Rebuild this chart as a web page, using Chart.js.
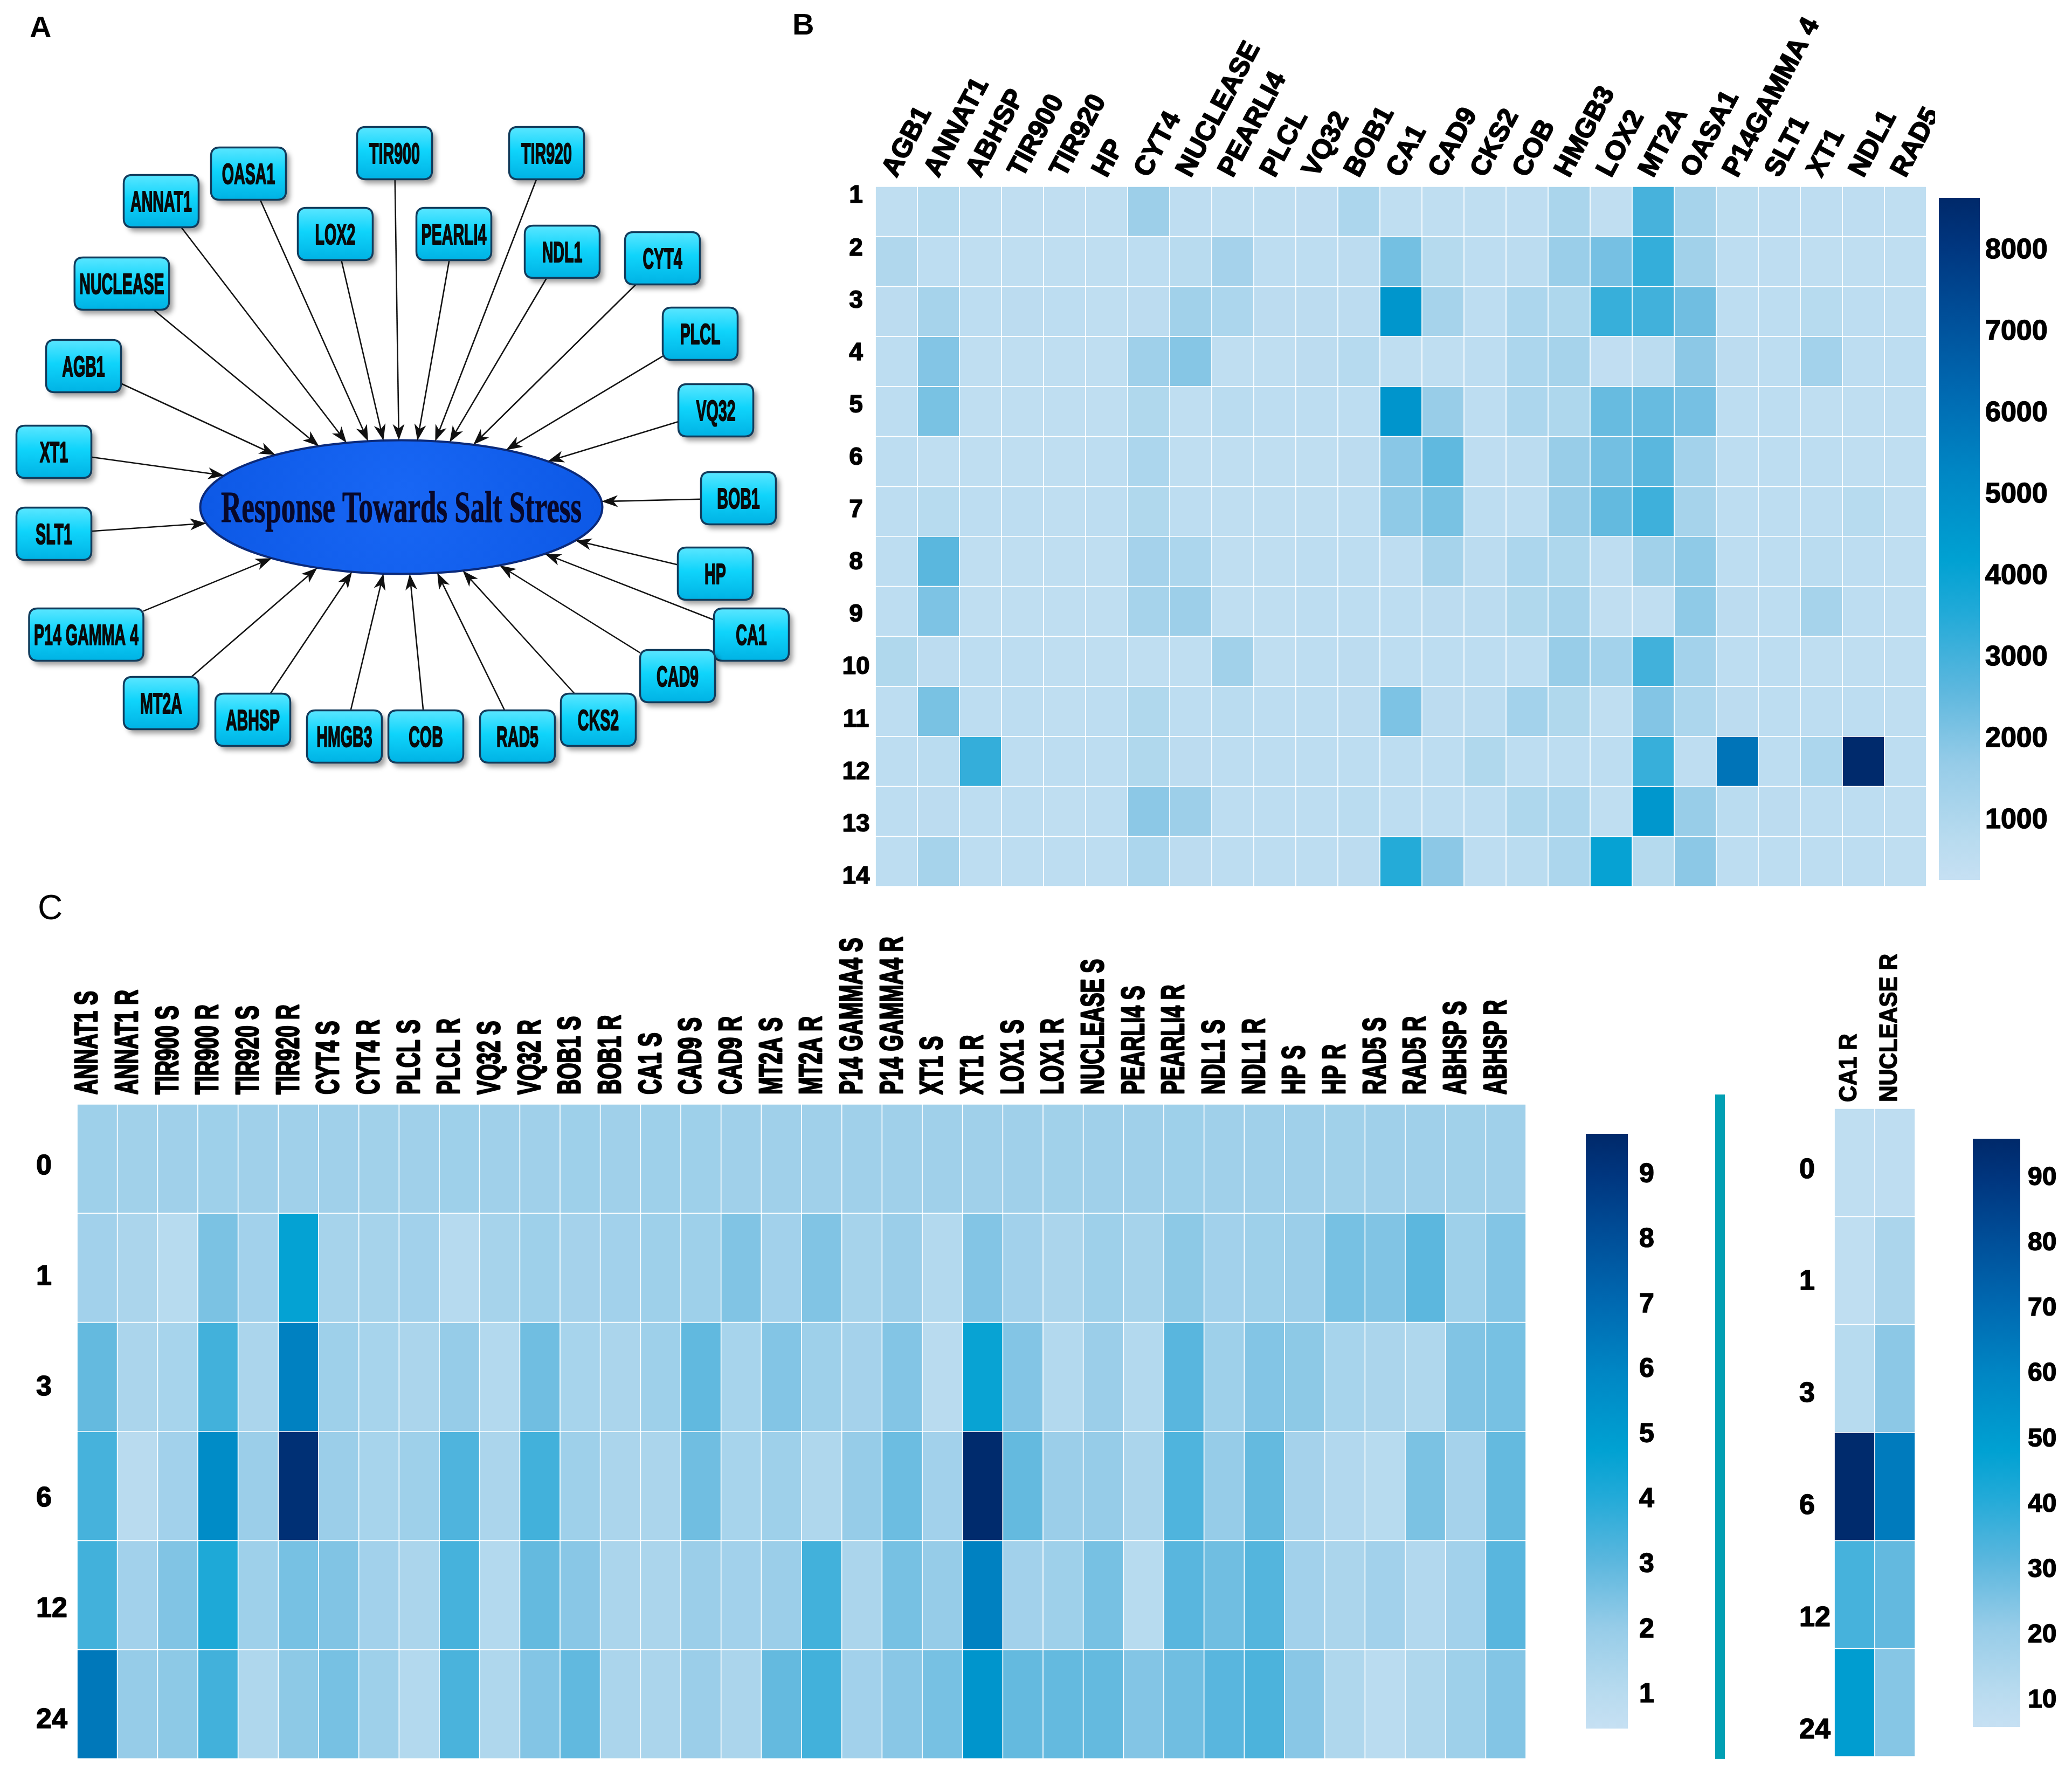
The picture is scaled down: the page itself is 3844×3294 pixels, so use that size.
<!DOCTYPE html>
<html><head><meta charset="utf-8">
<script src="https://cdn.jsdelivr.net/npm/chart.js@4.4.1/dist/chart.umd.min.js"></script>
<style>
html,body{margin:0;padding:0;background:#fff;}
body{width:3844px;height:3294px;position:relative;overflow:hidden;font-family:"Liberation Sans",Arial,sans-serif;}
canvas{position:absolute;}
.plabel{position:absolute;line-height:1;color:#000;font-family:"Liberation Sans",Arial,sans-serif;}
.teal{position:absolute;background:#00a0b4;}
</style></head><body>
<div class="plabel" style="left:55px;top:22px;font-size:56px;font-weight:bold">A</div>
<div class="plabel" style="left:1470px;top:17px;font-size:56px;font-weight:bold">B</div>
<div class="plabel" style="left:70px;top:1651px;font-size:64px;font-weight:normal">C</div>
<div class="teal" style="left:3182px;top:2030px;width:18px;height:1232px"></div>
<script>
// ---------------- DATA ----------------
// Panel A network
const hubLabel = 'Response Towards Salt Stress';
const hubCenter = [7.445, 9.405];
const hubRadii = [3.73, 1.24];
const networkGenes = ['TIR900','TIR920','OASA1','ANNAT1','LOX2','PEARLI4','NDL1','CYT4','NUCLEASE','PLCL','AGB1','VQ32','XT1','BOB1','SLT1','HP','CA1','P14 GAMMA 4','CAD9','MT2A','CKS2','ABHSP','HMGB3','COB','RAD5'];
const networkX = [7.32,10.14,4.61,2.99,6.22,8.42,10.43,12.29,2.26,12.99,1.55,13.28,1.00,13.70,1.00,13.27,13.94,1.60,12.57,2.99,11.10,4.69,6.39,7.90,9.60];
const networkY = [2.84,2.84,3.22,3.73,4.34,4.34,4.67,4.79,5.26,6.19,6.79,7.61,8.38,9.24,9.90,10.64,11.77,11.77,12.54,13.04,13.35,13.35,13.66,13.66,13.66];
const arrowAngle = [-90.7,-80.3,-99.5,-105.8,-95.1,-85.4,-76.1,-69,-114.2,-58.6,-128.8,-43.2,-151.8,-4.8,166,30,44.4,130.1,60.7,114.7,72.2,104.2,95.1,87.6,79.7];

// Panel B heatmap
const bGenes = ['AGB1','ANNAT1','ABHSP','TIR900','TIR920','HP','CYT4','NUCLEASE','PEARLI4','PLCL','VQ32','BOB1','CA1','CAD9','CKS2','COB','HMGB3','LOX2','MT2A','OASA1','P14GAMMA 4','SLT1','XT1','NDL1','RAD5'];
const bRows = ['1','2','3','4','5','6','7','8','9','10','11','12','13','14'];
const bValues = [
 [520,800,520,500,480,520,1500,560,520,520,540,1100,520,520,520,560,1150,500,2950,1250,620,560,560,560,520],
 [1000,580,520,520,520,520,580,760,1300,580,580,640,2240,860,580,680,1600,2200,3250,1400,580,560,520,520,520],
 [640,1250,580,640,580,520,640,1400,1100,640,640,640,4650,1250,580,1100,1050,3200,3050,2300,580,580,800,580,520],
 [580,2000,520,520,520,520,1450,1950,520,520,640,820,520,520,580,1100,1250,440,650,1850,640,580,1350,580,580],
 [580,2150,520,520,520,520,980,520,700,580,580,580,4700,1650,580,1100,1050,2450,2450,2200,580,580,520,520,520],
 [580,520,520,520,520,580,1100,520,520,520,520,640,1900,2550,560,680,1650,2250,2650,1350,580,580,580,520,520],
 [580,800,580,580,520,580,980,580,520,520,520,580,1800,2150,580,580,1650,2500,3100,1250,580,580,580,800,520],
 [580,2650,520,520,520,520,1300,1100,520,520,580,580,560,1250,680,1100,1050,560,1400,1800,580,580,700,580,520],
 [580,2100,520,520,520,520,1250,1500,520,520,580,580,580,640,680,980,1250,480,500,1800,640,580,1250,580,520],
 [980,640,580,580,520,520,520,520,1400,520,580,640,580,580,580,580,1650,1350,3050,1350,580,580,520,520,520],
 [580,2150,580,580,520,580,980,580,700,580,580,640,2100,640,680,1350,980,520,2000,1100,640,580,580,580,520],
 [580,700,3250,580,580,580,980,640,580,580,580,580,580,580,980,580,580,580,3200,560,5900,580,1100,8600,580],
 [580,640,580,580,520,580,1850,1500,580,580,580,700,580,580,580,1050,1100,520,4600,1650,700,640,580,580,520],
 [580,1250,580,580,580,580,1100,640,580,580,580,640,3500,1850,580,700,1100,4100,860,1850,580,580,580,580,520]
];
const bRange = [271, 8649];
const bTicks = [1000,2000,3000,4000,5000,6000,7000,8000];

// Panel C main heatmap
const cColumns = ['ANNAT1 S','ANNAT1 R','TIR900 S','TIR900 R','TIR920 S','TIR920 R','CYT4 S','CYT4 R','PLCL S','PLCL R','VQ32 S','VQ32 R','BOB1 S','BOB1 R','CA1 S','CAD9 S','CAD9 R','MT2A S','MT2A R','P14 GAMMA4 S','P14 GAMMA4 R','XT1 S','XT1 R','LOX1 S','LOX1 R','NUCLEASE S','PEARLI4 S','PEARLI4 R','NDL1 S','NDL1 R','HP S','HP R','RAD5 S','RAD5 R','ABHSP S','ABHSP R'];
const cTimes = ['0','1','3','6','12','24'];
const cValues = [
 [1.8,1.7,1.75,1.8,1.75,1.75,1.75,1.7,1.75,1.8,1.75,1.75,1.8,1.75,1.8,1.8,1.75,1.75,1.75,1.75,1.75,1.75,1.75,1.75,1.7,1.75,1.75,1.8,1.75,1.75,1.75,1.7,1.75,1.75,1.7,1.75],
 [1.67,1.4,1.05,2.5,1.67,4.7,1.55,1.55,1.67,1.1,1.55,1.8,1.6,1.67,1.8,1.8,2.4,1.67,2.4,1.55,1.9,1.17,2.36,1.67,1.4,1.8,1.55,2.2,1.67,1.8,1.9,2.57,2.4,3.04,1.8,2.36],
 [2.9,1.4,1.53,3.5,1.4,6.15,1.8,1.53,1.4,2.04,1.17,2.7,1.53,1.4,1.8,2.95,1.53,2.36,1.8,1.6,2.36,1.0,4.6,2.36,1.17,1.9,1.17,3.1,1.8,2.36,2.2,1.53,1.4,1.3,2.4,2.57],
 [3.43,1.0,1.67,5.7,1.9,9.3,1.9,1.53,1.8,3.27,1.4,3.5,1.8,1.4,1.4,2.7,1.53,1.8,1.3,2.04,2.77,1.67,9.55,2.9,1.9,2.04,1.4,3.27,2.04,2.9,1.6,1.2,1.05,2.5,1.6,2.9],
 [3.5,1.67,2.4,4.14,1.8,2.57,2.4,1.67,1.4,3.43,1.17,2.9,2.26,1.4,1.4,1.9,1.67,1.9,3.5,1.4,2.57,2.04,6.15,1.67,1.8,2.57,1.05,3.1,2.7,3.18,1.67,1.4,1.67,1.2,1.67,3.1],
 [6.5,2.04,2.2,3.5,1.3,2.2,2.57,1.8,1.17,3.36,1.3,2.36,2.95,1.4,1.4,1.9,1.4,2.9,3.5,1.67,2.26,2.57,5.33,2.9,2.9,2.9,2.36,2.7,3.1,3.32,2.26,1.3,0.95,1.3,1.8,2.36]
];
const cRange = [0.48, 9.63];
const cTicks = [1,2,3,4,5,6,7,8,9];

// Panel C side heatmap
const dColumns = ['CA1 R','NUCLEASE R'];
const dValues = [[8.5,9],[8.5,15],[11.5,23],[95,64],[35,30],[50,24]];
const dRange = [5.95, 96];
const dTicks = [10,20,30,40,50,60,70,80,90];

// ---------------- STYLE / HELPERS ----------------
const SANS = '"Liberation Sans", Arial, sans-serif';
const cmapStops = [
 [0.00,[198,224,243]],[0.06,[184,219,239]],[0.17,[150,204,232]],[0.28,[92,183,222]],
 [0.39,[34,170,216]],[0.47,[0,161,210]],[0.60,[0,134,196]],[0.72,[0,104,176]],
 [0.83,[0,78,152]],[0.93,[0,54,127]],[1.00,[0,41,106]]
];
function rgb(c){return 'rgb('+c.map(Math.round).join(',')+')';}
function cmap(v, r){
  let t = (v - r[0]) / (r[1] - r[0]);
  t = Math.max(0, Math.min(1, t));
  for (let k = 1; k < cmapStops.length; k++) {
    if (t <= cmapStops[k][0]) {
      const [t0,c0] = cmapStops[k-1], [t1,c1] = cmapStops[k];
      const f = (t - t0) / (t1 - t0);
      return rgb(c0.map((x,j)=>x + (c1[j]-x)*f));
    }
  }
  return rgb(cmapStops[cmapStops.length-1][1]);
}
function mount(left, top, w, h){
  const c = document.createElement('canvas');
  c.width = w; c.height = h;
  c.style.left = left+'px'; c.style.top = top+'px';
  c.style.width = w+'px'; c.style.height = h+'px';
  document.body.appendChild(c);
  return c.getContext('2d');
}
// bold text with a slight extra stroke to mimic the heavy face of the original
function heavyText(c, txt, x, y, sw){
  c.fillText(txt, x, y);
  if (sw) { c.lineWidth = sw; c.strokeStyle = c.fillStyle; c.lineJoin = 'round'; c.strokeText(txt, x, y); }
}
const baseOpts = {responsive:false, animation:false, devicePixelRatio:1, maintainAspectRatio:false,
  plugins:{legend:{display:false}, tooltip:{enabled:false}}};

function heatmap(ctx, pad, cols, rows, values, range, labelPlugin){
  const datasets = rows.map((r,i)=>({
    label:r,
    data: cols.map(()=>[i-0.5, i+0.5]),
    backgroundColor: values[i].map(v=>cmap(v, range)),
    borderColor:'rgba(255,255,255,0.26)',
    borderWidth:1.2,
    borderSkipped:false,
    barPercentage:1, categoryPercentage:1, grouped:false
  }));
  return new Chart(ctx, {type:'bar', data:{labels:cols, datasets},
    options:Object.assign({}, baseOpts, {
      layout:{padding:pad},
      scales:{
        x:{display:false, offset:true},
        y:{display:false, min:-0.5, max:rows.length-0.5, reverse:true}
      }
    }), plugins:[labelPlugin]});
}

function colorbar(ctx, pad, axisWidth, range, ticks, tickPad, fontSize){
  return new Chart(ctx, {type:'bar',
    data:{labels:[''], datasets:[{data:[[range[0], range[1]]],
      backgroundColor:(c)=>{
        const ch = c.chart, a = ch.chartArea;
        if (!a) return '#cce';
        const g = ch.ctx.createLinearGradient(0, a.bottom, 0, a.top);
        cmapStops.forEach(s=>g.addColorStop(s[0], rgb(s[1])));
        return g;
      },
      borderWidth:0, barPercentage:1, categoryPercentage:1}]},
    options:Object.assign({}, baseOpts, {
      layout:{padding:pad},
      scales:{
        x:{display:false},
        y:{position:'right', min:range[0], max:range[1],
           grid:{display:false, drawTicks:false}, border:{display:false},
           ticks:{color:'#000', padding:tickPad, textStrokeColor:'#000', textStrokeWidth:1.5,
                  font:{family:SANS, size:fontSize, weight:'bold'}, callback:(v)=>String(v)},
           afterBuildTicks:(ax)=>{ ax.ticks = ticks.map(v=>({value:v})); },
           afterFit:(ax)=>{ ax.width = axisWidth; }
        }
      }
    })});
}

// ---------------- PANEL A : network ----------------
(function(){
  const ctx = mount(0, 0, 1560, 1560);
  const BOX_H = 97, BOX_FONT = 'bold 54px ' + SANS, BOX_SX = 0.53;
  function rrect(c, x, y, w, h, r){
    c.beginPath();
    c.moveTo(x+r, y); c.lineTo(x+w-r, y); c.quadraticCurveTo(x+w, y, x+w, y+r);
    c.lineTo(x+w, y+h-r); c.quadraticCurveTo(x+w, y+h, x+w-r, y+h);
    c.lineTo(x+r, y+h); c.quadraticCurveTo(x, y+h, x, y+h-r);
    c.lineTo(x, y+r); c.quadraticCurveTo(x, y, x+r, y); c.closePath();
  }
  const netPlugin = {
    id:'net',
    afterDatasetsDraw(chart){
      const {ctx:c, scales:{x, y}} = chart;
      const cx = x.getPixelForValue(hubCenter[0]), cy = y.getPixelForValue(hubCenter[1]);
      const rx = x.getPixelForValue(hubCenter[0]+hubRadii[0]) - cx;
      const ry = y.getPixelForValue(hubCenter[1]+hubRadii[1]) - cy;
      c.save();
      // hub ellipse
      c.beginPath(); c.ellipse(cx, cy, rx, ry, 0, 0, Math.PI*2);
      const eg = c.createRadialGradient(cx, cy-ry*0.2, 10, cx, cy, rx);
      eg.addColorStop(0, '#1866f4'); eg.addColorStop(1, '#0d59e6');
      c.fillStyle = eg; c.fill();
      c.lineWidth = 4; c.strokeStyle = '#0b2a7a'; c.stroke();
      // hub text
      c.font = 'bold 82px "Liberation Serif", "Times New Roman", serif';
      const tw = c.measureText(hubLabel).width;
      c.save(); c.translate(cx, cy + 27); c.scale(669/tw, 1);
      c.textAlign = 'center'; c.textBaseline = 'alphabetic'; c.fillStyle = '#08082a';
      heavyText(c, hubLabel, 0, 0, 1);
      c.restore();
      // node sizes
      c.font = BOX_FONT;
      const widths = networkGenes.map(g=>Math.max(139, c.measureText(g).width*BOX_SX + 18));
      // arrows
      networkGenes.forEach((g,i)=>{
        const nx = x.getPixelForValue(networkX[i]), ny = y.getPixelForValue(networkY[i]);
        const th = arrowAngle[i]*Math.PI/180;
        const tx = cx + rx*Math.cos(th), ty = cy + ry*Math.sin(th);
        const dx = tx - nx, dy = ty - ny;
        const sxf = dx !== 0 ? Math.abs((widths[i]/2)/dx) : Infinity;
        const syf = dy !== 0 ? Math.abs((BOX_H/2)/dy) : Infinity;
        const s = Math.min(sxf, syf);
        const sx = nx + dx*s, sy = ny + dy*s;
        const ang = Math.atan2(ty - sy, tx - sx);
        const L = 30, W = 11;
        const bx = tx - L*Math.cos(ang), by = ty - L*Math.sin(ang);
        c.strokeStyle = '#141414'; c.lineWidth = 2.6;
        c.beginPath(); c.moveTo(sx, sy); c.lineTo(tx - 0.7*L*Math.cos(ang), ty - 0.7*L*Math.sin(ang)); c.stroke();
        c.fillStyle = '#111';
        c.beginPath(); c.moveTo(tx, ty);
        c.lineTo(bx + W*Math.sin(ang), by - W*Math.cos(ang));
        c.lineTo(tx - 0.72*L*Math.cos(ang), ty - 0.72*L*Math.sin(ang));
        c.lineTo(bx - W*Math.sin(ang), by + W*Math.cos(ang));
        c.closePath(); c.fill();
      });
      // boxes
      networkGenes.forEach((g,i)=>{
        const nx = x.getPixelForValue(networkX[i]), ny = y.getPixelForValue(networkY[i]);
        const w = widths[i], h = BOX_H, x0 = nx - w/2, y0 = ny - h/2;
        c.save();
        c.shadowColor = 'rgba(0,0,0,0.38)'; c.shadowBlur = 10; c.shadowOffsetX = 7; c.shadowOffsetY = 8;
        rrect(c, x0, y0, w, h, 16);
        const gr = c.createLinearGradient(0, y0, 0, y0+h);
        gr.addColorStop(0, '#5ae6ff'); gr.addColorStop(0.45, '#0fd4fb'); gr.addColorStop(1, '#00b2e4');
        c.fillStyle = gr; c.fill();
        c.restore();
        rrect(c, x0, y0, w, h, 16);
        c.lineWidth = 3.5; c.strokeStyle = '#123c5c'; c.stroke();
        c.save(); c.translate(nx, ny + 19); c.scale(BOX_SX, 1);
        c.font = BOX_FONT; c.textAlign = 'center'; c.textBaseline = 'alphabetic'; c.fillStyle = '#0a0a0a';
        heavyText(c, g, 0, 0, 2);
        c.restore();
      });
      c.restore();
    }
  };
  new Chart(ctx, {type:'scatter',
    data:{datasets:[{data:networkX.map((v,i)=>({x:v, y:networkY[i]})), pointRadius:0}]},
    options:Object.assign({}, baseOpts, {
      layout:{padding:0},
      scales:{x:{display:false, min:0, max:15.6}, y:{display:false, min:0, max:15.6, reverse:true}}
    }), plugins:[netPlugin]});
})();

// ---------------- PANEL B ----------------
heatmap(mount(1480, 0, 2110, 1700), {left:144, top:346, right:16, bottom:56}, bGenes, bRows, bValues, bRange, {
  id:'bLabels',
  afterDraw(chart){
    const {ctx:c, chartArea:a, scales:{x, y}} = chart;
    c.save(); c.fillStyle = '#000'; c.font = 'bold 50px ' + SANS;
    bGenes.forEach((g,i)=>{
      c.save(); c.translate(x.getPixelForValue(i), a.top - 15); c.rotate(-62*Math.PI/180);
      c.textAlign = 'left'; c.textBaseline = 'alphabetic'; heavyText(c, g, 0, 0, 2); c.restore();
    });
    c.font = 'bold 46px ' + SANS; c.textAlign = 'center'; c.textBaseline = 'middle';
    bRows.forEach((r,i)=>{ heavyText(c, r, a.left - 36, y.getPixelForValue(i) + (i - 6.5)*4.4, 1.5); });
    c.restore();
  }
});
colorbar(mount(3597, 300, 247, 1400), {left:0, right:0, top:67, bottom:68}, 171, bRange, bTicks, 10, 52);

// ---------------- PANEL C ----------------
heatmap(mount(0, 1700, 2860, 1594), {left:143, top:348, right:29, bottom:32}, cColumns, cTimes, cValues, cRange, {
  id:'cLabels',
  afterDraw(chart){
    const {ctx:c, chartArea:a, scales:{x, y}} = chart;
    c.save(); c.fillStyle = '#000'; c.font = 'bold 60px ' + SANS;
    cColumns.forEach((g,i)=>{
      c.save(); c.translate(x.getPixelForValue(i), a.top - 18); c.rotate(-Math.PI/2); c.scale(0.65, 1);
      c.textAlign = 'left'; c.textBaseline = 'alphabetic'; heavyText(c, g, 0, 0, 3); c.restore();
    });
    c.font = 'bold 52px ' + SANS; c.textAlign = 'left'; c.textBaseline = 'middle';
    cTimes.forEach((r,i)=>{ heavyText(c, r, 67, y.getPixelForValue(i) + 14 + 3.1*i, 1.5); });
    c.restore();
  }
});
colorbar(mount(2942, 2050, 160, 1244), {left:0, right:0, top:53, bottom:88}, 82, cRange, cTicks, 21, 50);

heatmap(mount(3300, 1700, 300, 1594), {left:103, top:356, right:47, bottom:36}, dColumns, cTimes, dValues, dRange, {
  id:'dLabels',
  afterDraw(chart){
    const {ctx:c, chartArea:a, scales:{x, y}} = chart;
    c.save(); c.fillStyle = '#000'; c.font = 'bold 47px ' + SANS;
    dColumns.forEach((g,i)=>{
      c.save(); c.translate(x.getPixelForValue(i) + 3, a.top - 12); c.rotate(-Math.PI/2); c.scale(0.9, 1);
      c.textAlign = 'left'; c.textBaseline = 'alphabetic'; heavyText(c, g, 0, 0, 1.5); c.restore();
    });
    c.font = 'bold 52px ' + SANS; c.textAlign = 'left'; c.textBaseline = 'middle';
    cTimes.forEach((r,i)=>{ heavyText(c, r, 38, y.getPixelForValue(i) + 14 + 7.6*i, 1.5); });
    c.restore();
  }
});
colorbar(mount(3660, 2050, 184, 1244), {left:0, right:0, top:62, bottom:91}, 96, dRange, dTicks, 14, 48);
</script>
</body></html>
